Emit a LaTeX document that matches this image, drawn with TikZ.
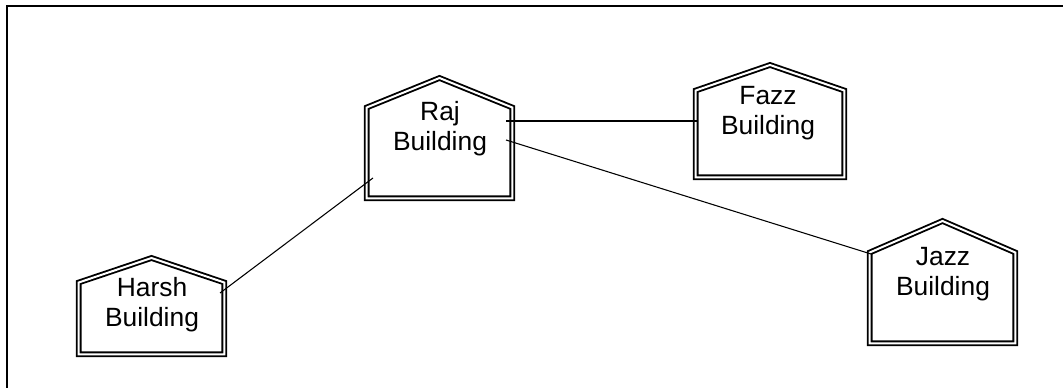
\documentclass[tikz,border=0pt]{standalone}
\usepackage{fontspec}
\setmainfont{Liberation Sans}

% contorno doppio degli edifici
\tikzset{
  casa/.style={draw, line width=1.4pt, double, double distance=1.5pt, line join=miter},
  etichetta/.style={align=center, inner sep=0pt, font=\fontsize{19.8}{22.5}\selectfont},
  collegamento/.style={line width=0.8pt}
}

% sagoma: x sinistra, x destra, y base, y spalla, y colmo
\newcommand{\casa}[5]{%
  \draw[casa] (#1,#3) -- (#1,#4) -- ({(#1+#2)/2},#5) -- (#2,#4) -- (#2,#3) -- cycle;}

\begin{document}
\begin{tikzpicture}[x=0.75pt,y=-0.75pt]
    \useasboundingbox (0,0) rectangle (1063,388);

    % cornice
    \draw[line width=1.5pt] (7,388) -- (7,6) -- (1063,6);

    % edifici
    \casa{366.7}{512.3}{198.3}{107.5}{78}
    \casa{78.7}{224.3}{354.3}{282.5}{258}
    \casa{695.7}{844.3}{177.3}{90.5}{65}
    \casa{869.7}{1015.3}{343.3}{252.5}{221}

    % nomi
    \node[etichetta] (raj)   at (440,128.7) {Raj\\Building};
    \node[etichetta] (harsh) at (152,305)   {Harsh\\Building};
    \node[etichetta] (fazz)  at (768,112.7) {Fazz\\Building};
    \node[etichetta] (jazz)  at (943,274)   {Jazz\\Building};

    % punti di attacco
    \coordinate (raj-f) at (506,121);
    \coordinate (raj-j) at (506,140);
    \coordinate (raj-h) at (373,178);
    \coordinate (fazz-r) at (697,121);
    \coordinate (jazz-r) at (871,254);
    \coordinate (harsh-r) at (220,293);

    % cavi
    \draw[collegamento] (raj-f) -- (fazz-r);
    \draw[collegamento] (raj-j) -- (jazz-r);
    \draw[collegamento] (raj-h) -- (harsh-r);
\end{tikzpicture}
\end{document}
